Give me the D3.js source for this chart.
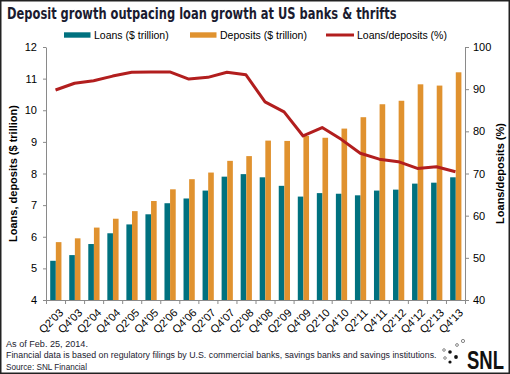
<!DOCTYPE html>
<html lang="en">
  <head>
    <meta charset="UTF-8" />
    <title>Deposit growth outpacing loan growth</title>
    <script src="https://cdn.jsdelivr.net/npm/d3@7"></script>
    <style>
      body { margin: 0; background: #fff; }
      svg { display: block; }
    </style>
  </head>
  <body>
    <div id="main-div"></div>
    <script>
      // quarters (every second quarter)
      let quarters = ["Q2'03", "Q4'03", "Q2'04", "Q4'04", "Q2'05", "Q4'05", "Q2'06", "Q4'06",
        "Q2'07", "Q4'07", "Q2'08", "Q4'08", "Q2'09", "Q4'09", "Q2'10", "Q4'10",
        "Q2'11", "Q4'11", "Q2'12", "Q4'12", "Q2'13", "Q4'13"];
      // $ trillion
      let loans = [5.24, 5.42, 5.77, 6.11, 6.39, 6.71, 7.06, 7.21, 7.46, 7.90, 7.98,
        7.88, 7.61, 7.27, 7.38, 7.36, 7.31, 7.46, 7.49, 7.68, 7.71, 7.88];
      let deposits = [5.83, 5.95, 6.29, 6.57, 6.81, 7.13, 7.50, 7.82, 8.03, 8.40, 8.55,
        9.04, 9.03, 9.19, 9.13, 9.42, 9.78, 10.19, 10.30, 10.82, 10.78, 11.20];
      // percent
      let ratio = [89.8, 91.4, 92.0, 93.1, 94.0, 94.1, 94.1, 92.4, 92.8, 94.0, 93.4,
        87.0, 84.6, 78.9, 80.9, 78.1, 74.8, 73.4, 72.8, 71.2, 71.6, 70.4];
      let leftTicks = [4, 5, 6, 7, 8, 9, 10, 11, 12];
      let rightTicks = [40, 50, 60, 70, 80, 90, 100];

      let teal = "#00717f";
      let orange = "#e0922f";
      let red = "#b21e1e";
      let axisGrey = "#8a8a8a";
      let font = "'Liberation Sans', Arial, sans-serif";

      let W = 510, H = 374;
      let svg = d3.select("#main-div").append("svg")
        .attr("width", W).attr("height", H)
        .style("font-family", font);

      svg.append("rect").attr("x", 0.75).attr("y", 0.75)
        .attr("width", W - 1.5).attr("height", H - 1.5)
        .attr("fill", "#fff").attr("stroke", "#222").attr("stroke-width", 1.5);

      // squeeze a text horizontally so it spans the given width
      function fitWidth(sel, x, y, width) {
        sel.attr("x", 0).attr("y", 0);
        let w = sel.node().getComputedTextLength();
        let s = Math.min(1, width / w);
        sel.attr("transform", "translate(" + x + "," + y + ") scale(" + s + ",1)");
      }

      // title
      let title = svg.append("text")
        .attr("font-family", "'DejaVu Sans', sans-serif")
        .attr("font-weight", "bold").attr("font-size", 15)
        .attr("fill", "#1b1b30")
        .text("Deposit growth outpacing loan growth at US banks & thrifts");
      fitWidth(title, 7, 18.5, 390);

      let plotLeft = 46, plotRight = 465, plotTop = 47, plotBottom = 300;

      let x = d3.scaleBand().domain(quarters).range([plotLeft, plotRight]);
      let xb = d3.scaleLinear().domain([0, quarters.length]).range([plotLeft, plotRight]);
      let x1 = d3.scaleBand().domain(["loans", "deposits"])
        .range([4.2, x.step() - 3.6]);
      let yL = d3.scaleLinear().domain([4, 12]).range([plotBottom, plotTop]);
      let yR = d3.scaleLinear().domain([40, 100]).range([plotBottom, plotTop]);

      // bars
      let groups = svg.append("g").selectAll("g").data(quarters).join("g")
        .attr("transform", (d) => "translate(" + x(d) + ",0)");
      groups.append("rect")
        .attr("x", x1("loans")).attr("width", x1.bandwidth())
        .attr("y", (d, i) => yL(loans[i]))
        .attr("height", (d, i) => yL(4) - yL(loans[i]))
        .attr("fill", teal);
      groups.append("rect")
        .attr("x", x1("deposits")).attr("width", x1.bandwidth())
        .attr("y", (d, i) => yL(deposits[i]))
        .attr("height", (d, i) => yL(4) - yL(deposits[i]))
        .attr("fill", orange);

      // axes
      let gL = svg.append("g").attr("transform", "translate(" + plotLeft + ",0)")
        .call(d3.axisLeft(yL).tickValues(leftTicks).tickSize(3).tickSizeOuter(0).tickPadding(6));
      let gR = svg.append("g").attr("transform", "translate(" + plotRight + ",0)")
        .call(d3.axisRight(yR).tickValues(rightTicks).tickSize(4).tickSizeOuter(0).tickPadding(4));
      let gB = svg.append("g").attr("transform", "translate(0," + plotBottom + ")")
        .call(d3.axisBottom(xb).tickValues(d3.range(quarters.length + 1))
          .tickFormat("").tickSize(4).tickSizeOuter(0));
      [gL, gR, gB].forEach((g) => {
        g.selectAll("path, line").attr("stroke", axisGrey);
        g.selectAll("text").attr("font-family", font).attr("font-size", 11).attr("fill", "#000");
      });

      // rotated category labels
      svg.append("g").selectAll("text").data(quarters).join("text")
        .attr("transform", (d) => "translate(" + (x(d) + x.step() / 2 + 3) + "," + (plotBottom + 8) + ") rotate(-45)")
        .attr("text-anchor", "end")
        .attr("dy", "0.7em")
        .attr("font-size", 11)
        .attr("fill", "#000")
        .text((d) => d);

      // ratio line
      let line = d3.line()
        .x((d, i) => x(quarters[i]) + x.step() / 2)
        .y((d) => yR(d));
      svg.append("path").datum(ratio)
        .attr("d", line)
        .attr("fill", "none")
        .attr("stroke", red)
        .attr("stroke-width", 3)
        .attr("stroke-linejoin", "round");

      // axis titles
      svg.append("text")
        .attr("transform", "translate(17," + (plotTop + plotBottom) / 2 + ") rotate(-90)")
        .attr("text-anchor", "middle").attr("font-weight", "bold").attr("font-size", 11)
        .text("Loans, deposits ($ trillion)");
      svg.append("text")
        .attr("transform", "translate(504," + (plotTop + plotBottom) / 2 + ") rotate(-90)")
        .attr("text-anchor", "middle").attr("font-weight", "bold").attr("font-size", 11)
        .text("Loans/deposits (%)");

      // legend
      let legend = [
        { label: "Loans ($ trillion)", color: teal, type: "rect", x: 64 },
        { label: "Deposits ($ trillion)", color: orange, type: "rect", x: 190 },
        { label: "Loans/deposits (%)", color: red, type: "line", x: 326 },
      ];
      let lg = svg.append("g").selectAll("g").data(legend).join("g")
        .attr("transform", (d) => "translate(" + d.x + ",35)");
      lg.filter((d) => d.type == "rect").append("rect")
        .attr("x", 0).attr("y", -2.7).attr("width", 26.5).attr("height", 5.4)
        .attr("fill", (d) => d.color);
      lg.filter((d) => d.type == "line").append("line")
        .attr("x1", 0).attr("x2", 28).attr("y1", 0).attr("y2", 0)
        .attr("stroke", (d) => d.color).attr("stroke-width", 3);
      lg.append("text").attr("x", (d) => (d.type == "line" ? 31 : 30)).attr("y", 4)
        .attr("font-size", 10.5).attr("fill", "#000")
        .text((d) => d.label);

      // footer notes
      let notes = [
        { text: "As of Feb. 25, 2014.", len: 82 },
        { text: "Financial data is based on regulatory filings by U.S. commercial banks, savings banks and savings institutions.", len: 431 },
        { text: "Source: SNL Financial", len: 81 },
      ];
      notes.forEach((d, i) => {
        let t = svg.append("text")
          .attr("font-size", 9.5).attr("fill", "#1b1b30")
          .text(d.text);
        fitWidth(t, 6, 347 + i * 11.3, d.len);
      });

      // SNL mark
      let logo = svg.append("g");
      [[463, 341, 1.6, 0], [457, 345, 1.4, 0], [444, 350, 1.3, 0], [445, 358, 1.3, 0],
        [450, 352, 1.8, 1], [456, 357, 1.9, 1], [450, 362, 1.6, 1]].forEach((c) => {
        logo.append("circle").attr("cx", c[0]).attr("cy", c[1]).attr("r", c[2])
          .attr("fill", c[3] ? "#111" : "#fff")
          .attr("stroke", "#555").attr("stroke-width", c[3] ? 0 : 0.7);
      });
      let snl = logo.append("text")
        .attr("font-weight", "bold").attr("font-size", 25).attr("fill", "#111")
        .text("SNL");
      fitWidth(snl, 467, 368.5, 37);
    </script>
  </body>
</html>
